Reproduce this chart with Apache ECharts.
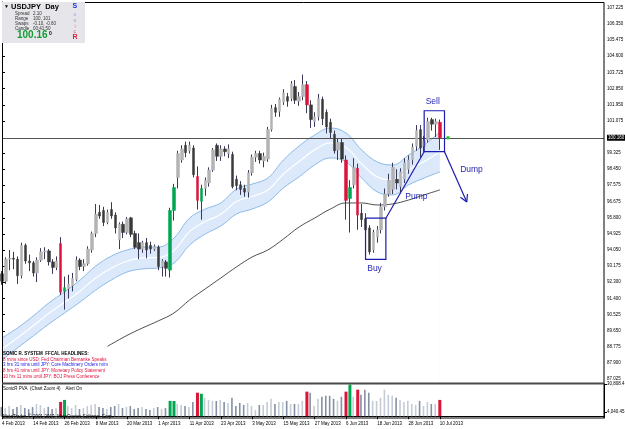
<!DOCTYPE html>
<html style="height: 100%">
<head>
    <meta charset="utf-8">
    <script src="https://cdn.jsdelivr.net/npm/echarts@6/dist/echarts.min.js"></script>
    <title>USDJPY Day</title>
</head>
<body style="height: 100%; margin: 0; background: #fff">
<div id="container" style="width: 625px; height: 429px"></div>
<script type="text/javascript">

    // tick labels (one every 8 bars) and price ticks on the right
    const tickLabels = ['4 Feb 2013', '14 Feb 2013', '26 Feb 2013', '8 Mar 2013', '20 Mar 2013', '1 Apr 2013',
        '11 Apr 2013', '23 Apr 2013', '3 May 2013', '15 May 2013', '27 May 2013', '6 Jun 2013',
        '18 Jun 2013', '28 Jun 2013', '10 Jul 2013'];
    const priceTicks = [107.225, 106.350, 105.475, 104.600, 103.725, 102.850, 101.950, 101.075, 100.160,
        99.325, 98.450, 97.575, 96.675, 95.800, 94.925, 94.050, 93.175, 92.300, 91.400, 90.525,
        89.650, 88.775, 87.900, 87.025];
    const volTicks = [30808.4, 4040.45];
    const lastPrice = 100.16;

    // daily candles [open, close, low, high]
    const candles = [
        [92.75, 92.35, 92.15, 92.90], [92.35, 93.55, 92.20, 93.65], [93.55, 93.60, 92.95, 94.05], [93.60, 93.55, 93.00, 93.95],
        [93.55, 92.65, 92.20, 93.70], [92.65, 94.30, 92.50, 94.45], [94.30, 93.45, 93.30, 94.40], [93.45, 93.35, 92.90, 93.80],
        [93.35, 92.80, 92.60, 93.45], [92.80, 93.50, 92.30, 93.65], [93.50, 93.95, 93.40, 94.15], [93.95, 94.00, 93.55, 94.20],
        [94.00, 93.40, 93.20, 94.10], [93.40, 93.10, 92.75, 93.55], [93.10, 93.45, 92.95, 93.70], [94.40, 91.75, 91.60, 94.75],
        [91.80, 92.00, 90.80, 92.60], [91.95, 92.20, 91.40, 92.70], [92.10, 92.50, 91.80, 92.80], [92.45, 93.50, 92.35, 93.70],
        [93.50, 93.15, 92.95, 93.60], [93.15, 93.30, 92.90, 93.55], [93.30, 94.10, 93.20, 94.25], [94.05, 94.95, 93.90, 95.05],
        [94.95, 96.00, 94.75, 96.55], [96.10, 95.90, 95.75, 96.50], [96.20, 95.55, 95.35, 96.40], [95.55, 96.10, 95.45, 96.25],
        [96.25, 95.90, 95.75, 96.65], [95.95, 95.25, 94.95, 96.10], [94.60, 95.45, 94.10, 95.55], [95.45, 95.00, 94.70, 95.60],
        [95.00, 95.75, 94.90, 95.85], [95.80, 94.90, 94.75, 95.85], [94.95, 94.20, 94.10, 95.10], [94.45, 94.10, 93.55, 94.95],
        [94.10, 94.45, 93.90, 94.55], [94.45, 94.05, 93.60, 94.70], [94.30, 94.10, 93.85, 94.50], [94.10, 94.25, 94.00, 94.35],
        [94.20, 93.15, 92.95, 94.30], [93.15, 93.45, 92.60, 93.55], [93.40, 93.05, 92.60, 93.50], [92.95, 96.20, 92.55, 96.35],
        [96.20, 97.45, 95.65, 97.65], [98.00, 99.30, 97.40, 99.45], [98.95, 99.55, 98.80, 99.75], [99.75, 99.35, 99.10, 99.95],
        [99.45, 99.75, 99.30, 99.95], [99.60, 98.15, 98.00, 99.75], [98.05, 96.75, 96.25, 98.60], [96.70, 97.40, 95.70, 97.60],
        [97.40, 97.85, 97.00, 98.00], [97.70, 98.40, 97.50, 98.55], [98.40, 99.50, 98.30, 99.60], [99.75, 99.15, 98.90, 99.85],
        [99.15, 99.55, 98.90, 99.75], [99.55, 99.40, 99.15, 99.70], [99.30, 99.55, 99.05, 99.80], [99.25, 97.50, 97.40, 99.40],
        [97.90, 97.55, 97.30, 98.10], [97.60, 97.35, 97.05, 97.80], [97.40, 97.20, 96.95, 97.60], [97.20, 98.25, 96.90, 98.40],
        [98.25, 99.10, 98.10, 99.25], [99.10, 99.30, 98.85, 99.45], [99.30, 98.95, 98.75, 99.45], [98.90, 99.15, 98.55, 99.35],
        [99.00, 100.60, 98.85, 100.75], [100.60, 101.75, 100.50, 101.95], [101.80, 101.55, 101.30, 102.00], [101.60, 102.25, 101.30, 102.35],
        [102.10, 102.60, 101.95, 102.80], [102.40, 102.15, 101.85, 102.60], [102.30, 103.10, 102.15, 103.25], [102.95, 102.20, 102.00, 103.30],
        [102.15, 102.40, 101.90, 102.65], [102.40, 103.05, 102.20, 103.60], [103.05, 101.95, 101.50, 103.25], [101.95, 101.15, 100.70, 102.20],
        [101.05, 101.30, 100.75, 101.55], [101.30, 102.30, 101.10, 102.55], [102.25, 101.20, 100.85, 102.40], [101.55, 100.75, 100.40, 101.70],
        [101.00, 100.45, 100.10, 101.20], [100.35, 99.45, 99.30, 100.55], [99.50, 99.90, 98.95, 100.10], [99.90, 99.00, 98.80, 100.10],
        [98.95, 96.75, 95.70, 99.20], [96.85, 97.45, 95.00, 97.85], [97.60, 98.55, 97.40, 99.05], [98.50, 95.95, 95.15, 98.75],
        [96.05, 95.70, 95.30, 96.55], [95.75, 95.15, 94.90, 96.05], [95.25, 93.95, 93.80, 95.40], [94.05, 95.00, 93.90, 95.15],
        [94.75, 95.15, 94.45, 95.35], [95.15, 96.40, 94.95, 96.60], [96.40, 97.10, 96.20, 97.40], [97.10, 97.85, 96.95, 98.20],
        [97.35, 98.55, 97.10, 98.80], [97.90, 97.70, 97.35, 98.45], [97.50, 98.30, 97.20, 98.50], [97.90, 98.80, 97.70, 99.05],
        [98.45, 98.95, 98.20, 99.20], [98.95, 99.65, 98.70, 99.85], [99.70, 100.55, 99.45, 100.85], [100.60, 99.60, 99.10, 100.85],
        [99.70, 100.00, 99.40, 100.25], [100.05, 101.05, 99.90, 101.25], [101.15, 100.90, 100.55, 101.25], [100.90, 101.05, 100.20, 101.20],
        [101.00, 100.16, 99.50, 101.15]
    ];
    const redBars = [15, 50, 78, 88, 91, 112];
    const greenBars = [16, 43, 44, 51, 89];

    // SonicR PVA volume
    const volumes = [
        8800, 7800, 9700, 6900, 8800, 10800, 7900, 6800, 8700, 11700, 10700, 7800, 8900, 6900, 7800, 13700,
        15600, 9800, 7800, 10700, 6900, 7800, 9700, 10800, 11700, 8800, 7900, 6800, 8800, 9800, 11700, 7800,
        8900, 9700, 6900, 7800, 8800, 6800, 5900, 7800, 8800, 6900, 7800, 14700, 14600, 11700, 10800, 9800,
        8800, 13700, 22500, 21500, 17600, 15700, 14700, 14600, 15600, 13700, 12700, 17600, 9800, 12700, 10800, 12700,
        9800, 5900, 10700, 10800, 13700, 16600, 11700, 13700, 13600, 14700, 11700, 11800, 11700, 14700, 23500, 22500,
        9800, 16600, 18600, 19600, 19500, 16600, 14700, 18600, 23500, 30300, 18600, 25400, 20500, 25400, 22500, 14700,
        14600, 17600, 25400, 20500, 19600, 17600, 15600, 13700, 14700, 11700, 10800, 14700, 9800, 13700, 11700, 11800,
        15600
    ];

    // SonicR dragon band (read every 4 bars)
    const bandIdx = [0, 4, 8, 12, 16, 20, 24, 28, 32, 36, 40, 44, 48, 52, 56, 60, 64, 68, 72, 76, 80, 84, 88, 92, 96, 100, 104, 108, 112];
    const bandUp = [89.26, 89.81, 90.46, 91.17, 91.77, 92.42, 93.18, 93.72, 94.05, 94.21, 94.21, 94.70, 95.79, 96.28, 96.61,
        97.37, 97.64, 97.97, 98.95, 99.71, 100.31, 100.69, 100.42, 99.50, 98.84, 98.68, 99.22, 99.77, 100.47];
    const bandMid = [88.66, 89.27, 89.92, 90.60, 91.20, 91.82, 92.53, 93.07, 93.45, 93.62, 93.64, 94.02, 95.06, 95.60, 95.99,
        96.69, 96.96, 97.32, 98.19, 98.87, 99.50, 99.88, 99.63, 98.74, 98.03, 97.87, 98.41, 98.87, 99.39];
    const bandLow = [88.06, 88.72, 89.37, 90.02, 90.62, 91.22, 91.87, 92.42, 92.85, 93.02, 93.07, 93.34, 94.32, 94.92, 95.36,
        96.01, 96.28, 96.66, 97.43, 98.03, 98.68, 99.06, 98.84, 97.97, 97.21, 97.05, 97.59, 97.97, 98.30];

    // long moving average (black)
    const maIdx = [27, 28, 32, 36, 40, 44, 48, 52, 56, 60, 64, 68, 72, 76, 80, 84, 88, 92, 96, 100, 104, 108, 112];
    const maVal = [88.80, 88.93, 89.40, 89.81, 90.19, 90.62, 91.33, 91.93, 92.53, 93.13, 93.67, 94.05, 94.65, 95.30,
        95.79, 96.28, 96.61, 96.61, 96.50, 96.56, 96.77, 97.05, 97.32];

    // hand drawn annotations, in (bar index, price)
    const buyBox = [[93.0, 95.78], [98.2, 93.54]];
    const sellBox = [[108.0, 101.63], [113.2, 99.40]];
    const pumpLine = [[98.2, 95.78], [108.0, 99.40]];
    const dumpArrow = [[113.2, 99.40], [118.9, 96.66]];
    const annotText = ['Sell', 'Buy', 'Pump', 'Dump'];
    const annotAt = [[110.2, 102.11], [95.3, 93.04], [106.0, 96.96], [120.1, 98.41]];
    const bidDot = [114.1, 100.16];

    const headlines = [
        ['SONIC R. SYSTEM  FFCAL HEADLINES:', '#000'],
        ['8 mins since USD: Fed Chairman Bernanke Speaks', '#e0103c'],
        ['3 hrs 31 mins until JPY: Core Machinery Orders m/m', '#2020e0'],
        ['8 hrs 41 mins until JPY: Monetary Policy Statement', '#e0103c'],
        ['10 hrs 11 mins until JPY: BOJ Press Conference', '#e0103c']
    ];

    const FONT = '"Liberation Sans", Arial, sans-serif';
    const RED = '#dc143c', GREEN = '#00a651', BLUE = '#1c1cae';
    const NCAT = 155;

    // trading days (weekdays) from 4 Feb 2013, then empty space on the right
    const months = ['Jan', 'Feb', 'Mar', 'Apr', 'May', 'Jun', 'Jul', 'Aug'];
    let cats = [];
    let day = new Date(Date.UTC(2013, 1, 4));
    while (cats.length < candles.length) {
        let wd = day.getUTCDay();
        if (wd !== 0 && wd !== 6) cats.push(day.getUTCDate() + ' ' + months[day.getUTCMonth()] + ' 2013');
        day.setUTCDate(day.getUTCDate() + 1);
    }
    while (cats.length < NCAT) cats.push('f' + cats.length);

    function climaxColor(i) {
        if (redBars.indexOf(i) >= 0) return RED;
        if (greenBars.indexOf(i) >= 0) return GREEN;
        return null;
    }

    let bodies = candles.map(function (c, i) {
        let item = {value: [c[0], c[1], Math.min(c[0], c[1]), Math.max(c[0], c[1])]};
        let cc = climaxColor(i);
        if (cc) item.itemStyle = {color: cc, color0: cc, borderColor: cc, borderColor0: cc};
        return item;
    });
    let volNormal = volumes.map(function (v, i) {
        if (climaxColor(i)) return '-';
        let up = candles[i][1] >= candles[i][0];
        return {value: v, itemStyle: {color: up ? '#c5cbd5' : '#8590a3'}};
    });
    let volClimax = volumes.map(function (v, i) {
        let cc = climaxColor(i);
        return cc ? {value: v, itemStyle: {color: cc}} : '-';
    });
    const zip = (xs, ys) => xs.map((x, k) => [x, ys[k]]);
    const isTick = idx => idx % 8 === 0 && idx < candles.length;

    let graphics = [
        {type: 'rect', z: 100, shape: {x: 2, y: 2, width: 83, height: 41}, style: {fill: '#e6e6ea'}},
        {type: 'text', z: 101, style: {x: 4, y: 4, text: '\u25BC', font: '5px ' + FONT, fill: '#000'}},
        {type: 'text', z: 101, style: {x: 11, y: 2.5, text: 'USDJPY  Day', font: 'bold 7.5px ' + FONT, fill: '#000'}},
        {type: 'text', z: 101, style: {x: 100 - 83, y: 30, text: '100.16', font: 'bold 10px ' + FONT, fill: '#139a32'}},
        {type: 'text', z: 101, style: {x: 49, y: 31, text: '0', font: 'bold 5px ' + FONT, fill: '#000'}},
        {type: 'text', z: 101, style: {x: 72.5, y: 3, text: 'S', font: 'bold 7px ' + FONT, fill: '#1a30e0'}},
        {type: 'text', z: 101, style: {x: 73.5, y: 12, text: 'o', font: '5px ' + FONT, fill: '#9a9ae6'}},
        {type: 'text', z: 101, style: {x: 73.5, y: 18, text: 'n', font: '5px ' + FONT, fill: '#a68ad8'}},
        {type: 'text', z: 101, style: {x: 74.5, y: 24, text: 'i', font: '5px ' + FONT, fill: '#e070a0'}},
        {type: 'text', z: 101, style: {x: 73.5, y: 29, text: 'c', font: '5px ' + FONT, fill: '#e05080'}},
        {type: 'text', z: 101, style: {x: 72.5, y: 34, text: 'R', font: 'bold 7px ' + FONT, fill: '#e0203a'}},
        {type: 'text', z: 101, style: {x: 3, y: 386, text: 'SonicR PVA  (Chart Zoom 4)    Alert On', font: '4.5px ' + FONT, fill: '#000'}},
        {type: 'text', z: 101, style: {x: 3, y: 414, text: 'MetaTrader, \u00A9 2001-2013, MetaQuotes Software Corp.', font: '4.5px ' + FONT, fill: '#000'}},
        {type: 'rect', z: 90, shape: {x: 2.5, y: 2.5, width: 601.5, height: 415.5}, style: {fill: 'none', stroke: '#000', lineWidth: 1}},
        {type: 'line', z: 90, shape: {x1: 2, y1: 383.5, x2: 604, y2: 383.5}, style: {stroke: '#4a4a4a', lineWidth: 2}}
    ];
    const infoRows = [['Spread', '2.10'], ['Range', '100, 101'], ['Swaps', '-0.10, -0.60'], ['Candle', '00:41:50']];
    infoRows.forEach(function (r, k) {
        graphics.push({type: 'text', z: 101, style: {x: 15, y: 11.5 + k * 5, text: r[0], font: '4.5px ' + FONT, fill: '#333'}});
        graphics.push({type: 'text', z: 101, style: {x: 33, y: 11.5 + k * 5, text: r[1], font: '4.5px ' + FONT, fill: '#333'}});
    });
    headlines.forEach(function (h, k) {
        graphics.push({type: 'text', z: 101, style: {x: 3, y: 351 + k * 5.8, text: h[0],
            font: (k === 0 ? 'bold ' : '') + '4.5px ' + FONT, fill: h[1]}});
    });

    let dom = document.getElementById("container");
    let chart = echarts.init(dom);
    chart.setOption({
        animation: false,
        backgroundColor: '#fff',
        grid: [
            {left: 2, top: 2, width: 602, height: 381, outerBoundsMode: 'none', containLabel: false},
            {left: 2, top: 384, width: 602, height: 34, outerBoundsMode: 'none', containLabel: false}
        ],
        xAxis: [
            {type: 'category', gridIndex: 0, data: cats, boundaryGap: false,
                axisLine: {show: false}, axisTick: {show: false}, axisLabel: {show: false}, splitLine: {show: false}},
            {type: 'category', gridIndex: 1, data: cats, boundaryGap: false,
                axisLine: {show: true, lineStyle: {color: '#000', width: 1}},
                axisTick: {show: true, interval: isTick, length: 3, lineStyle: {color: '#000'}},
                axisLabel: {interval: isTick, align: 'left', margin: 3, fontSize: 4.5, fontFamily: FONT, color: '#000',
                    formatter: function (v, idx) { return tickLabels[idx / 8] || ''; }},
                splitLine: {show: false}},
            {type: 'value', gridIndex: 0, min: 0, max: NCAT - 1, show: false}
        ],
        yAxis: [
            {type: 'value', gridIndex: 0, position: 'right', min: 86.807, max: 107.552,
                axisLine: {show: true, lineStyle: {color: '#000', width: 1}},
                axisTick: {show: true, length: 3, customValues: priceTicks, lineStyle: {color: '#000'}},
                axisLabel: {customValues: priceTicks, margin: 3, fontSize: 4.5, fontFamily: FONT, color: '#000',
                    formatter: function (v) {
                        return Math.abs(v - lastPrice) < 1e-6 ? '{cur|' + v.toFixed(3) + '}' : v.toFixed(3);
                    },
                    rich: {cur: {backgroundColor: '#000', color: '#fff', fontSize: 4.5, fontFamily: FONT, padding: [1, 1, 0, 1]}}},
                splitLine: {show: false}},
            {type: 'value', gridIndex: 1, position: 'right', min: -1700, max: 30808.4,
                axisLine: {show: true, lineStyle: {color: '#000', width: 1}},
                axisTick: {show: true, length: 3, customValues: volTicks, lineStyle: {color: '#000'}},
                axisLabel: {customValues: volTicks, margin: 3, fontSize: 4.5, fontFamily: FONT, color: '#000'},
                splitLine: {show: false}}
        ],
        series: [
            {name: 'bandUp', type: 'line', xAxisIndex: 2, yAxisIndex: 0, data: zip(bandIdx, bandUp), smooth: 0.4,
                showSymbol: false, z: 1, lineStyle: {color: '#8dbbe8', width: 1},
                areaStyle: {color: '#dbe9fb', opacity: 1, origin: 'start'}},
            {name: 'bandLow', type: 'line', xAxisIndex: 2, yAxisIndex: 0, data: zip(bandIdx, bandLow), smooth: 0.4,
                showSymbol: false, z: 2, lineStyle: {color: '#8dbbe8', width: 1},
                areaStyle: {color: '#ffffff', opacity: 1, origin: 'start'}},
            {name: 'bandMid', type: 'line', xAxisIndex: 2, yAxisIndex: 0, data: zip(bandIdx, bandMid), smooth: 0.4,
                showSymbol: false, z: 3, lineStyle: {color: '#ffffff', width: 1.2}},
            {name: 'ma', type: 'line', xAxisIndex: 2, yAxisIndex: 0, data: zip(maIdx, maVal), smooth: 0.4,
                showSymbol: false, z: 4, lineStyle: {color: '#222', width: 0.8}},
            {name: 'wicks', type: 'candlestick', xAxisIndex: 0, yAxisIndex: 0, data: candles, barWidth: 1, z: 5,
                itemStyle: {color: '#3a3a58', color0: '#3a3a58', borderColor: '#3a3a58', borderColor0: '#3a3a58', borderWidth: 1}},
            {name: 'bodies', type: 'candlestick', xAxisIndex: 0, yAxisIndex: 0, data: bodies, barWidth: 3, z: 6,
                itemStyle: {color: '#b3b3b3', color0: '#3a3a3a', borderColor: '#b3b3b3', borderColor0: '#3a3a3a', borderWidth: 0.5},
                markLine: {silent: true, symbol: 'none', label: {show: false},
                    lineStyle: {color: '#555', width: 1, type: 'solid'}, data: [{yAxis: lastPrice}]}},
            {name: 'pva', type: 'bar', xAxisIndex: 1, yAxisIndex: 1, data: volNormal, barWidth: 1.6, z: 2},
            {name: 'pvaClimax', type: 'bar', xAxisIndex: 1, yAxisIndex: 1, data: volClimax, barWidth: 3, barGap: '-100%', z: 3},
            {name: 'notes', type: 'custom', xAxisIndex: 2, yAxisIndex: 0, z: 20, silent: true, data: [[112, 100]],
                renderItem: function (params, api) {
                    let kids = [];
                    [buyBox, sellBox].forEach(function (b) {
                        let a = api.coord(b[0]), c = api.coord(b[1]);
                        kids.push({type: 'rect', shape: {x: a[0], y: a[1], width: c[0] - a[0], height: c[1] - a[1]},
                            style: {fill: 'none', stroke: BLUE, lineWidth: 1.2}});
                    });
                    let p1 = api.coord(pumpLine[0]), p2 = api.coord(pumpLine[1]);
                    kids.push({type: 'line', shape: {x1: p1[0], y1: p1[1], x2: p2[0], y2: p2[1]}, style: {stroke: BLUE, lineWidth: 1.2}});
                    let d1 = api.coord(dumpArrow[0]), d2 = api.coord(dumpArrow[1]);
                    kids.push({type: 'line', shape: {x1: d1[0], y1: d1[1], x2: d2[0], y2: d2[1]}, style: {stroke: BLUE, lineWidth: 1.2}});
                    let ang = Math.atan2(d2[1] - d1[1], d2[0] - d1[0]);
                    [0.5, -0.5].forEach(function (s) {
                        kids.push({type: 'line', shape: {x1: d2[0], y1: d2[1],
                            x2: d2[0] - 8 * Math.cos(ang + s), y2: d2[1] - 8 * Math.sin(ang + s)},
                            style: {stroke: BLUE, lineWidth: 1.2}});
                    });
                    annotText.forEach(function (t, k) {
                        let q = api.coord(annotAt[k]);
                        kids.push({type: 'text', style: {text: t, x: q[0], y: q[1], align: 'center', verticalAlign: 'middle',
                            font: '8.5px ' + FONT, fill: '#2626b4'}});
                    });
                    let g = api.coord(bidDot);
                    kids.push({type: 'circle', shape: {cx: g[0], cy: g[1], r: 1.8}, style: {fill: '#22cc22'}});
                    return {type: 'group', children: kids};
                }}
        ],
        graphic: {elements: graphics}
    }, true);

</script>
</body>
</html>
